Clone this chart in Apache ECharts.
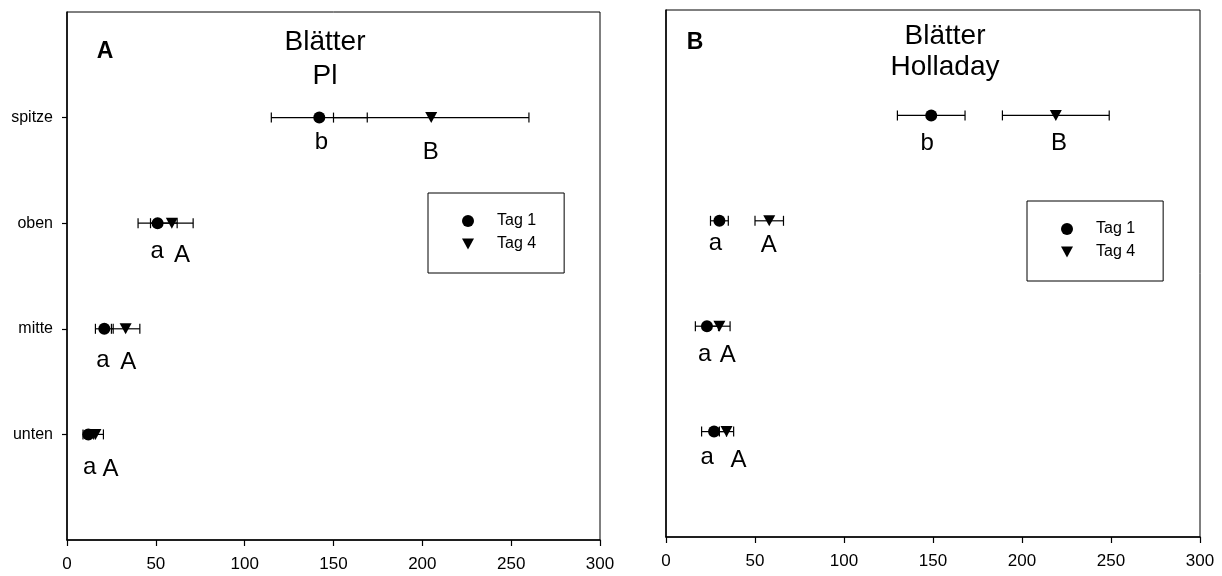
<!DOCTYPE html>
<html>
<head>
<meta charset="utf-8">
<script src="https://cdn.jsdelivr.net/npm/echarts@6/dist/echarts.min.js"></script>
<style>
  html, body { margin: 0; padding: 0; background: #fff; }
  #chart { width: 1222px; height: 576px; }
</style>
</head>
<body>
<div id="chart"></div>
<script>
// ---------- data ----------
const categories = ['unten', 'mitte', 'oben', 'spitze']; // at y = 1..4
const xTicks = [0, 50, 100, 150, 200, 250, 300];
const seriesNames = ['Tag 1', 'Tag 4'];

// Panel A: Blätter Pl
const tag1A_mean = [12, 21, 51, 142];
const tag1A_err  = [3, 5, 11, 27];
const tag4A_mean = [16, 33, 59, 205];
const tag4A_err  = [4.5, 8, 12, 55];

// Panel B: Blätter Holladay
const tag1B_mean = [27, 23, 30, 149];
const tag1B_err  = [7, 6.5, 5, 19];
const tag4B_mean = [34, 30, 58, 219];
const tag4B_err  = [4, 6, 8, 30];

// significance letters (text, x value, offset below the row in category units)
const lettA_t1_text = ['a', 'a', 'a', 'b'];
const lettA_t1_x    = [13, 20.5, 51, 143.5];
const lettA_t1_dy   = [0.32, 0.30, 0.27, 0.24];
const lettA_t4_text = ['A', 'A', 'A', 'B'];
const lettA_t4_x    = [24.8, 34.8, 65, 205];
const lettA_t4_dy   = [0.34, 0.32, 0.31, 0.33];

const lettB_t1_text = ['a', 'a', 'a', 'b'];
const lettB_t1_x    = [23.4, 22, 28, 147];
const lettB_t1_dy   = [0.25, 0.27, 0.22, 0.27];
const lettB_t4_text = ['A', 'A', 'A', 'B'];
const lettB_t4_x    = [41, 35, 58, 221];
const lettB_t4_dy   = [0.28, 0.28, 0.24, 0.27];

const titleA = 'Blätter\nPl';
const titleB = 'Blätter\nHolladay';
const panelA = 'A';
const panelB = 'B';

// ---------- build ----------
const FONT = '"Liberation Sans", Arial, Helvetica, sans-serif';
const TRI = 'path://M0,0 L12,0 L6,11 Z';
const BLACK = '#000000';

function pts(mean) { return mean.map((m, i) => [m, i + 1]); }
function errs(mean, err) { return mean.map((m, i) => [i + 1, m - err[i], m + err[i]]); }
function letters(text, xs, dys) { return text.map((t, i) => [xs[i], i + 1 - dys[i], t]); }

function errorSeries(name, gi, data) {
  return {
    type: 'custom', name: name, xAxisIndex: gi, yAxisIndex: gi, z: 2,
    itemStyle: { color: BLACK },
    data: data, encode: { x: [1, 2], y: 0 },
    renderItem: function (params, api) {
      const y = api.value(0), lo = api.value(1), hi = api.value(2);
      const p1 = api.coord([lo, y]), p2 = api.coord([hi, y]);
      const h = 5;
      const st = { stroke: BLACK, lineWidth: 1.2 };
      return { type: 'group', children: [
        { type: 'line', shape: { x1: p1[0], y1: p1[1], x2: p2[0], y2: p2[1] }, style: st },
        { type: 'line', shape: { x1: p1[0], y1: p1[1] - h, x2: p1[0], y2: p1[1] + h }, style: st },
        { type: 'line', shape: { x1: p2[0], y1: p2[1] - h, x2: p2[0], y2: p2[1] + h }, style: st }
      ]};
    }
  };
}
function pointSeries(name, gi, data, symbol, size) {
  return { type: 'scatter', name: name, xAxisIndex: gi, yAxisIndex: gi, z: 5,
    symbol: symbol, symbolSize: size, data: data,
    itemStyle: { color: BLACK, opacity: 1 } };
}
let letterCount = 0;
function letterSeries(gi, data) {
  letterCount++;
  return { type: 'scatter', name: 'letters' + letterCount, xAxisIndex: gi, yAxisIndex: gi, z: 6,
    symbolSize: 1, data: data, silent: true,
    itemStyle: { color: BLACK, opacity: 0 },
    label: { show: true, position: [0, 0], align: 'center', verticalAlign: 'middle',
      color: BLACK, fontSize: 24, fontFamily: FONT, opacity: 1,
      textBorderWidth: 0, formatter: p => p.value[2] } };
}

function xAxis(gi) {
  return { type: 'value', gridIndex: gi, min: 0, max: 300, interval: 50,
    axisLine: { show: true, onZero: false, lineStyle: { color: BLACK, width: 1.5 } },
    axisTick: { show: true, inside: false, length: 6, lineStyle: { color: BLACK, width: 1.2 } },
    axisLabel: { color: BLACK, fontSize: 17, fontFamily: FONT, margin: 16 },
    splitLine: { show: false } };
}
function yAxis(gi, showLabels) {
  return { type: 'value', gridIndex: gi, min: 0, max: 5, interval: 1,
    axisLine: { show: true, onZero: false, lineStyle: { color: BLACK, width: 1.5 } },
    axisTick: { show: showLabels, length: 5, customValues: [1, 2, 3, 4], lineStyle: { color: BLACK, width: 1.2 } },
    axisLabel: { show: showLabels, color: BLACK, fontSize: 16, fontFamily: FONT, margin: 14,
      customValues: [1, 2, 3, 4],
      formatter: v => categories[v - 1] || '' },
    splitLine: { show: false } };
}
function legend(left, top) {
  return { left: left, top: top, orient: 'vertical', show: true,
    data: [
      { name: seriesNames[0], icon: 'circle', itemStyle: { color: BLACK } },
      { name: seriesNames[1], icon: TRI, itemStyle: { color: BLACK } }
    ],
    itemWidth: 12, itemHeight: 12, itemGap: 7,
    borderColor: BLACK, borderWidth: 1, borderRadius: 0,
    padding: [20, 28, 21, 34],
    textStyle: { color: BLACK, fontSize: 16, fontFamily: FONT, padding: [0, 0, 0, 18] },
    selectedMode: false };
}

const option = {
  backgroundColor: '#fff',
  animation: false,
  title: [
    { text: titleA, left: 325, top: 25, textAlign: 'center', padding: 0,
      textStyle: { fontSize: 28, fontWeight: 'normal', lineHeight: 34, color: BLACK, fontFamily: FONT } },
    { text: panelA, left: 105, top: 40, textAlign: 'center', padding: 0,
      textStyle: { fontSize: 23, fontWeight: 'bold', color: BLACK, fontFamily: FONT } },
    { text: titleB, left: 945, top: 21, textAlign: 'center', padding: 0,
      textStyle: { fontSize: 28, fontWeight: 'normal', lineHeight: 31, color: BLACK, fontFamily: FONT } },
    { text: panelB, left: 695, top: 31, textAlign: 'center', padding: 0,
      textStyle: { fontSize: 23, fontWeight: 'bold', color: BLACK, fontFamily: FONT } }
  ],
  legend: [legend(428, 193), legend(1027, 201)],
  grid: [
    { left: 67, right: 622, top: 12, bottom: 36, show: true, borderColor: BLACK, borderWidth: 1, containLabel: false },
    { left: 666, right: 22, top: 10, bottom: 39, show: true, borderColor: BLACK, borderWidth: 1, containLabel: false }
  ],
  xAxis: [xAxis(0), xAxis(1)],
  yAxis: [yAxis(0, true), yAxis(1, false)],
  series: [
    errorSeries(seriesNames[0], 0, errs(tag1A_mean, tag1A_err)),
    errorSeries(seriesNames[1], 0, errs(tag4A_mean, tag4A_err)),
    pointSeries(seriesNames[0], 0, pts(tag1A_mean), 'circle', 12),
    pointSeries(seriesNames[1], 0, pts(tag4A_mean), TRI, [12, 11]),
    letterSeries(0, letters(lettA_t1_text, lettA_t1_x, lettA_t1_dy)),
    letterSeries(0, letters(lettA_t4_text, lettA_t4_x, lettA_t4_dy)),
    errorSeries(seriesNames[0], 1, errs(tag1B_mean, tag1B_err)),
    errorSeries(seriesNames[1], 1, errs(tag4B_mean, tag4B_err)),
    pointSeries(seriesNames[0], 1, pts(tag1B_mean), 'circle', 12),
    pointSeries(seriesNames[1], 1, pts(tag4B_mean), TRI, [12, 11]),
    letterSeries(1, letters(lettB_t1_text, lettB_t1_x, lettB_t1_dy)),
    letterSeries(1, letters(lettB_t4_text, lettB_t4_x, lettB_t4_dy))
  ]
};

const chart = echarts.init(document.getElementById('chart'), null, { renderer: 'canvas' });
chart.setOption(option);
</script>
</body>
</html>
